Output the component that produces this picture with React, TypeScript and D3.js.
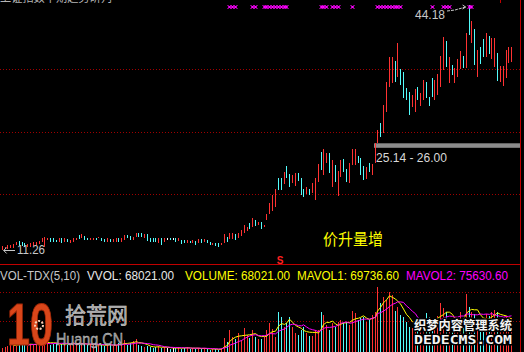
import React from "react";
import * as d3 from "d3";

// ---------- data ----------
const priceLow = 11.26;
const priceHigh = 44.18;

const highs = [
  11.80, 11.70, 11.93, 11.93, 12.03, 12.38, 12.47, 12.34, 12.20, 12.03,
  12.16, 12.30, 12.30, 12.47, 12.83, 13.05, 12.91, 12.83, 12.83, 12.60,
  12.83, 12.83, 12.83, 12.74, 12.60, 12.83, 12.91, 13.28, 13.37, 13.18,
  12.91, 12.91, 12.91, 12.91, 13.05, 12.91, 12.74, 12.83, 12.74, 12.74,
  12.83, 12.91, 12.83, 13.28, 13.28, 13.18, 13.05, 13.50, 13.50, 13.50,
  13.37, 13.37, 12.83, 12.83, 12.91, 12.91, 12.83, 12.83, 12.83, 12.83,
  12.83, 12.83, 12.83, 12.60, 12.60, 12.60, 12.51, 12.60, 12.51, 12.70,
  12.70, 12.70, 12.60, 12.34, 12.16, 12.16, 12.16, 12.24, 13.41, 13.05,
  13.59, 13.50, 13.41, 13.50, 13.95, 14.62, 14.39, 14.85, 15.52, 15.29,
  15.06, 15.02, 14.62, 16.10, 17.54, 18.65, 19.42, 20.94, 20.90, 21.78,
  22.55, 21.47, 21.34, 21.57, 21.65, 20.90, 19.42, 19.77, 19.42, 20.22,
  20.90, 22.82, 24.47, 24.79, 24.34, 24.26, 23.36, 22.68, 21.92, 23.36,
  23.45, 22.11, 22.91, 24.79, 24.79, 23.89, 23.58, 22.55, 22.46, 22.91,
  22.82, 25.64, 27.39, 28.37, 30.75, 33.88, 37.24, 37.24, 36.70, 39.04,
  35.55, 35.22, 32.99, 32.54, 32.09, 32.86, 33.21, 32.32, 34.11, 33.88,
  31.86, 34.34, 34.11, 34.91, 37.33, 39.85, 39.39, 37.16, 36.12, 35.68,
  36.89, 38.05, 37.33, 40.38, 44.18, 42.08, 40.92, 38.14, 38.58, 39.58,
  40.38, 40.02, 39.71, 39.71, 37.70, 35.99, 35.99, 38.14, 38.50, 38.50,
];

const lows = [
  11.26, 11.39, 11.39, 11.49, 11.57, 11.93, 11.84, 11.80, 11.66, 11.62,
  11.70, 11.84, 11.93, 12.03, 12.30, 11.70, 12.56, 12.30, 12.38, 12.38,
  12.30, 12.16, 12.30, 12.30, 12.16, 12.38, 12.56, 12.74, 12.83, 12.60,
  12.60, 12.60, 12.60, 12.60, 12.83, 12.47, 12.30, 12.30, 12.30, 12.38,
  12.30, 12.38, 12.38, 12.60, 12.91, 12.60, 12.60, 13.05, 13.05, 13.05,
  12.91, 12.47, 12.38, 12.38, 12.38, 12.16, 11.93, 12.30, 12.56, 12.56,
  12.56, 12.38, 12.51, 12.07, 12.16, 12.24, 12.16, 12.24, 11.97, 12.16,
  12.24, 12.34, 12.16, 11.89, 11.89, 11.80, 11.70, 11.97, 12.16, 12.38,
  12.70, 12.78, 12.60, 12.83, 13.14, 13.59, 13.85, 14.04, 14.39, 14.49,
  14.62, 14.04, 14.31, 15.29, 16.10, 16.54, 17.08, 19.32, 19.32, 20.13,
  20.90, 19.77, 20.22, 19.86, 20.57, 18.65, 18.42, 18.79, 18.65, 18.88,
  17.98, 20.44, 22.01, 21.34, 22.99, 21.65, 19.77, 20.44, 18.52, 21.11,
  21.74, 20.44, 20.22, 22.68, 22.68, 22.91, 21.34, 20.67, 20.76, 21.78,
  21.34, 22.95, 25.64, 26.49, 26.94, 29.85, 33.21, 33.75, 33.88, 34.55,
  33.44, 31.65, 31.42, 29.40, 30.52, 29.85, 31.42, 30.61, 31.42, 31.65,
  30.61, 31.86, 31.42, 32.09, 33.13, 35.45, 35.90, 33.75, 34.78, 33.75,
  34.47, 35.55, 35.68, 35.68, 40.16, 39.12, 36.12, 34.55, 36.26, 37.16,
  37.24, 37.60, 36.89, 35.90, 34.01, 33.88, 33.30, 34.34, 36.35, 36.57,
];

// u = close above open (red), d = close below open (cyan), f = flat (white)
const trend = [
  "uuuuuudddu", "uuuuuuuddd", "ududuuudud", "duududdudu", "uduudduudd",
  "uddddudufd", "fduddududu", "duddudduud", "uuduuuudud", "uduuuuuddu",
  "dduudddudu", "uuduududuu", "dduuudddud", "uuuduuuudu", "dddduuduud",
  "dduuuududu", "uududududd", "uduuduuuuu",
].join("");

const volumes = [
  8000, 10000, 12000, 16000, 18000, 12000, 16000, 20000, 14000, 12000,
  16000, 14000, 18000, 16000, 20000, 24000, 18000, 14000, 16000, 18000,
  14000, 16000, 18000, 14000, 16000, 20000, 16000, 14000, 18000, 16000,
  14000, 16000, 14000, 12000, 16000, 14000, 12000, 14000, 16000, 12000,
  14000, 18000, 16000, 24000, 14000, 18000, 22000, 26000, 14000, 12000,
  10000, 12000, 10000, 8000, 10000, 12000, 8000, 10000, 8000, 6000,
  8000, 8000, 10000, 6000, 8000, 10000, 6000, 8000, 6000, 8000,
  6000, 8000, 6000, 4000, 6000, 6000, 4000, 8000, 28000, 20000,
  44000, 30000, 26000, 38000, 24000, 48000, 34000, 28000, 44000, 30000,
  26000, 26000, 30000, 44000, 58000, 46000, 30000, 80000, 70000, 50000,
  58000, 70000, 50000, 38000, 34000, 44000, 50000, 38000, 32000, 32000,
  44000, 44000, 80000, 74000, 54000, 44000, 58000, 50000, 60000, 64000,
  58000, 60000, 54000, 82000, 78000, 64000, 68000, 70000, 60000, 64000,
  74000, 80000, 130000, 98000, 110000, 104000, 120000, 114000, 82000, 90000,
  74000, 70000, 60000, 50000, 48000, 58000, 54000, 44000, 56000, 78000,
  70000, 56000, 60000, 72000, 98000, 88000, 80000, 60000, 50000, 64000,
  68000, 80000, 60000, 116000, 90000, 80000, 76000, 60000, 66000, 56000,
  76000, 72000, 80000, 84000, 80000, 60000, 64000, 72000, 68000, 68021,
];

const signalMarks = [
  80, 81, 82, 88, 89, 92, 93, 94, 95, 96, 97, 98, 99, 100,
  112, 113, 114, 116, 117, 118, 123,
  132, 133, 134, 135, 136, 137, 138, 139, 140,
  151, 155, 156, 157, 164, 165,
];

const gridPrices = [18.79, 27.12, 35.59];
const volGrid = [62000, 120000];
const gapBand = [25.14, 26.0];
const gapLabel = "25.14 - 26.00";
const volMax = 136000;

const legendParts = [
  { text: "VOL-TDX(5,10)", x: 0, w: 80, color: "#c8c8c8" },
  { text: "VVOL: 68021.00", x: 87, w: 87, color: "#e8e8e8" },
  { text: "VOLUME: 68021.00", x: 185, w: 105, color: "#ffff00" },
  { text: "MAVOL1: 69736.60", x: 297, w: 102, color: "#ffff00" },
  { text: "MAVOL2: 75630.60", x: 406, w: 102, color: "#ff00ff" },
];

const UP = "#ff3232";
const DOWN = "#54fcfc";
const FLAT = "#ffffff";
const GRID = "#a00000";
const FRAME = "#c00000";
const SANS = "'Liberation Sans', Arial, sans-serif";
const CJK = "'Noto Sans CJK SC', sans-serif";

function movingAvg(arr: number[], n: number) {
  return arr.map((_, i) => (i < n - 1 ? null : d3.mean(arr.slice(i - n + 1, i + 1)) as number));
}

export default function App() {
  const W = 524;
  const H = 352;
  const N = highs.length;
  const x = d3.scaleLinear().domain([0, N - 1]).range([1.7, 511.3]);
  const y = d3.scaleLinear().domain([priceLow, priceHigh]).range([250, 5]);
  const yv = d3.scaleLinear().domain([0, volMax]).range([352, 284]);

  const colorOf = (i: number) => (trend[i] === "u" ? UP : trend[i] === "d" ? DOWN : FLAT);

  const ma5 = movingAvg(volumes, 5);
  const ma10 = movingAvg(volumes, 10);
  const line = d3
    .line<number | null>()
    .defined((d) => d != null)
    .x((_, i) => Math.round(x(i)) + 0.5)
    .y((d) => yv(d as number));

  const gapMid = (gapBand[0] + gapBand[1]) / 2;
  const hiIdx = highs.indexOf(d3.max(highs) as number);
  const loIdx = lows.indexOf(d3.min(lows) as number);

  return (
    <div style={{ position: "fixed", left: 0, top: 0 }}>
      <svg width={W} height={H} style={{ display: "block", background: "#000" }}>
        <rect x={0} y={0} width={W} height={H} fill="#000" />

        {/* clipped title */}
        <text x={0} y={2} fontFamily={CJK} fontSize={12} fill="#b4b4b4"
          textLength={112} lengthAdjust="spacingAndGlyphs">
          上证指数中期趋势研判
        </text>

        {/* grid lines */}
        {gridPrices.map((p) => (
          <line key={p} x1={0} x2={520} y1={Math.round(y(p)) + 0.5} y2={Math.round(y(p)) + 0.5}
            stroke={GRID} strokeDasharray="1 2" />
        ))}
        {volGrid.map((v) => (
          <line key={v} x1={0} x2={520} y1={Math.round(yv(v)) + 0.5} y2={Math.round(yv(v)) + 0.5}
            stroke={GRID} strokeDasharray="1 2" />
        ))}

        {/* gap band */}
        <rect x={374} y={y(gapMid) - 0.2} width={147} height={4.5} fill="#8c8c8c" />
        <text x={376} y={162} fontFamily={SANS} fontSize={12.5} fill="#d8d8d8"
          textLength={71} lengthAdjust="spacingAndGlyphs">{gapLabel}</text>

        {/* candles */}
        <g shapeRendering="crispEdges">
          {highs.map((h, i) => (
            <rect key={i} x={Math.round(x(i))} y={y(h)} width={1}
              height={Math.max(1, y(lows[i]) - y(h))} fill={colorOf(i)} />
          ))}
        </g>

        {/* signal markers */}
        <g stroke="#ff00ff" strokeWidth={1} fill="#ff00ff">
          {signalMarks.map((i) => {
            const cx = Math.round(x(i)) + 0.5;
            return (
              <g key={i}>
                <path d={`M${cx - 2},5 L${cx + 2},9 M${cx + 2},5 L${cx - 2},9`} />
                <rect x={cx - 1} y={6} width={2} height={2} stroke="none" />
              </g>
            );
          })}
        </g>

        {/* high / low labels */}
        <text x={415} y={18.5} fontFamily={SANS} fontSize={12} fill="#c8c8c8">
          {priceHigh.toFixed(2)}
        </text>
        <path d={`M447,11 L455,10 L${x(hiIdx) - 3},7`} stroke="#c8c8c8" fill="none" strokeDasharray="3 1" />
        <path d={`M${x(hiIdx) - 6},5 L${x(hiIdx) - 3},7 L${x(hiIdx) - 6},9`} stroke="#c8c8c8" fill="none" />

        <path d={`M${x(loIdx) + 2},250.5 L15,250.5 M${x(loIdx) + 5},247.5 L${x(loIdx) + 2},250.5 L${x(loIdx) + 5},253.5`}
          stroke="#c8c8c8" fill="none" />
        <text x={17} y={254} fontFamily={SANS} fontSize={12.5} fill="#c8c8c8"
          textLength={28} lengthAdjust="spacingAndGlyphs">{priceLow.toFixed(2)}</text>

        <text x={323} y={245} fontFamily={CJK} fontSize={16} fill="#ffff00"
          textLength={60} lengthAdjust="spacingAndGlyphs">价升量增</text>

        {/* frame */}
        <line x1={0} x2={521} y1={264.5} y2={264.5} stroke={FRAME} />
        <line x1={520.5} x2={520.5} y1={0} y2={H} stroke={FRAME} />
        <line x1={500.5} x2={500.5} y1={0} y2={3} stroke={FRAME} />
        <text x={280} y={264} textAnchor="middle" fontFamily={SANS} fontWeight="bold"
          fontSize={10} fill="#ff2020">S</text>

        {/* legend */}
        {legendParts.map((p) => (
          <text key={p.text} x={p.x} y={280} fontFamily={SANS} fontSize={12} fill={p.color}
            textLength={p.w} lengthAdjust="spacingAndGlyphs">{p.text}</text>
        ))}

        {/* volume bars */}
        <g shapeRendering="crispEdges">
          {volumes.map((v, i) => (
            <rect key={i} x={Math.round(x(i))} y={yv(v)} width={1}
              height={yv(0) - yv(v)} fill={colorOf(i)} />
          ))}
        </g>
        <path d={line(ma5) || ""} stroke="#ffff00" fill="none" strokeWidth={1} />
        <path d={line(ma10) || ""} stroke="#ff00ff" fill="none" strokeWidth={1} />

        {/* logo */}
        <text x={7} y={345} fontFamily={SANS} fontWeight="bold" fontSize={60} fill="#d9461a"
          stroke="#a02808" strokeWidth={1} textLength={46} lengthAdjust="spacingAndGlyphs">10</text>
        <circle cx={39} cy={325} r={4} fill="none" stroke="#f5d0b8" strokeWidth={2} strokeDasharray="2 1.5" />
        <text x={65} y={323} fontFamily={CJK} fontSize={22} fill="#9a9a9a" stroke="#dcdcdc"
          strokeWidth={0.5} textLength={63} lengthAdjust="spacingAndGlyphs">拾荒网</text>
        <text x={56} y={345} fontFamily={SANS} fontSize={17} fill="#8a8a8a" stroke="#d0d0d0"
          strokeWidth={0.4} textLength={67} lengthAdjust="spacingAndGlyphs">Huang.CN</text>

        {/* watermark */}
        <text x={414} y={330} fontFamily={CJK} fontWeight="bold" fontSize={12.5} fill="#f4f4f4"
          stroke="#000" strokeWidth={3} paintOrder="stroke" textLength={98}
          lengthAdjust="spacingAndGlyphs">织梦内容管理系统</text>
        <text x={414} y={344} fontFamily="'DejaVu Sans Mono', monospace" fontWeight="bold" fontSize={12}
          fill="#f4f4f4" stroke="#000" strokeWidth={3} paintOrder="stroke" textLength={98}
          lengthAdjust="spacingAndGlyphs">DEDECMS.COM</text>
      </svg>
    </div>
  );
}
